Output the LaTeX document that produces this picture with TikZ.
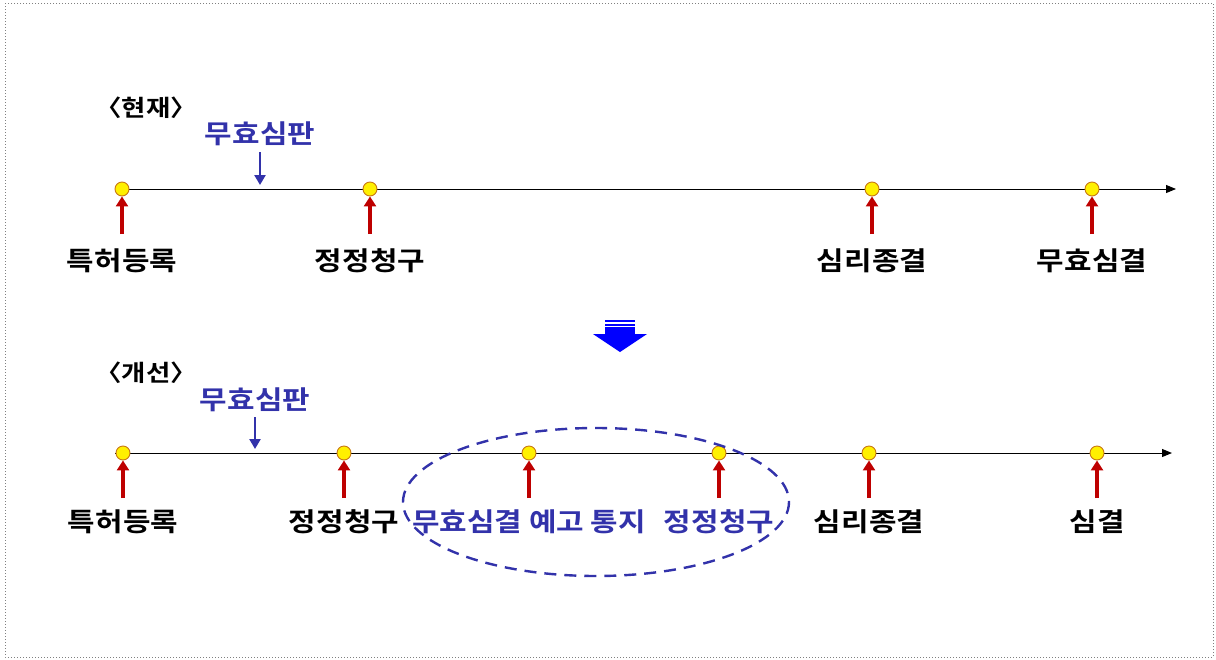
\documentclass[tikz,border=0pt]{standalone}
\usepackage{fontspec}
\setmainfont[FakeStretch=1.15]{Noto Sans CJK KR Bold}
\usetikzlibrary{arrows.meta}
\definecolor{evblue}{RGB}{50,50,170}
\definecolor{evred}{RGB}{190,0,0}
\definecolor{dotfill}{RGB}{255,240,0}
\definecolor{dotdraw}{RGB}{200,120,20}
\tikzset{
  lbl/.style={font=\fontsize{26}{30}\selectfont, text=black, inner sep=0pt},
  hlbl/.style={lbl, font=\fontsize{23}{27}\selectfont},
  blbl/.style={lbl, text=evblue},
  evt/.style={circle, fill=dotfill, draw=dotdraw, line width=0.9pt, minimum size=14pt, inner sep=0pt},
  uparr/.style={evred, line width=3.4pt, -{Triangle[length=10pt,width=12pt]}},
  downarr/.style={evblue, line width=2.6pt, -{Triangle[length=10pt,width=11pt]}},
  tline/.style={line width=1pt, black, -{Triangle[length=10pt,width=8pt]}}
}
\begin{document}
\begin{tikzpicture}[x=1pt,y=-1pt]
\useasboundingbox (0,0) rectangle (1216,659);
\draw[gray, dotted, line width=1pt] (5,3) rectangle (1213,657);
% top
\node[hlbl] (h1) at (146,108) {〈현재〉};
\coordinate (t0) at (115,189);
\coordinate (t1) at (1176,189);
\draw[tline] (t0) -- (t1);
\node[blbl] (hsp) at (260,134) {무효심판};
\coordinate (ha) at (260,152);
\coordinate (hb) at (260,185);
\draw[downarr] (ha) -- (hb);
\foreach \n/\x/\t in {a/122/특허등록, b/370/정정청구, c/872/심리종결, d/1092/무효심결}{
  \node[evt] (e\n) at (\x,189) {};
  \node[lbl] (l\n) at (\x,261) {\t};
  \coordinate (s\n) at (\x,234);
  \draw[uparr] (s\n) -- (e\n.south);
}
% big arrow
\fill[blue] (593,334) -- (647,334) -- (620,352) -- cycle;
\fill[blue] (605,327) rectangle (635,334);
\fill[blue] (605,320) rectangle (635,322);
\fill[blue] (605,323.5) rectangle (635,325.5);
% bottom
\node[hlbl] (h2) at (146,373) {〈개선〉};
\coordinate (u0) at (115,453);
\coordinate (u1) at (1172,453);
\draw[tline] (u0) -- (u1);
\node[blbl] (gsp) at (255,400) {무효심판};
\coordinate (ga) at (255,417);
\coordinate (gb) at (255,449);
\draw[downarr] (ga) -- (gb);
\foreach \n/\x/\t/\c in {a/123/특허등록/black, b/344/정정청구/black, c/529/무효심결 예고 통지/evblue, d/719/정정청구/evblue, e/869/심리종결/black, f/1097/심결/black}{
  \node[evt] (f\n) at (\x,453) {};
  \node[lbl, text=\c] (m\n) at (\x,522) {\t};
  \coordinate (r\n) at (\x,498);
  \draw[uparr] (r\n) -- (f\n.south);
}
\draw[evblue, line width=2.4pt, dash pattern=on 12pt off 8pt] (596,502) ellipse [x radius=193, y radius=74];
\end{tikzpicture}
\end{document}
